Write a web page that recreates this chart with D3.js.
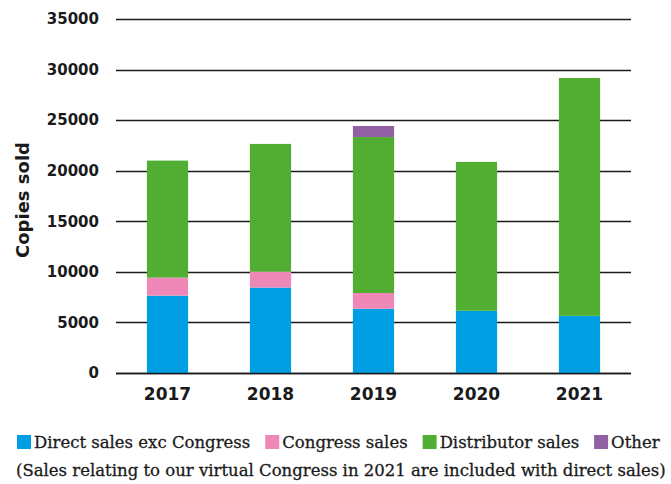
<!DOCTYPE html>
<html>
<head>
<meta charset="utf-8">
<script src="https://cdn.jsdelivr.net/npm/d3@7"></script>
<style>
  body { margin: 0; background: #fff; }
</style>
</head>
<body>
<div id="chart-area"></div>
<script>
// Data
// ****
const years = ["2017", "2018", "2019", "2020", "2021"]
const direct = [7650, 8450, 6350, 6150, 5650]
const congress = [1780, 1570, 1560, 0, 0]
const distributor = [11570, 12630, 15420, 14720, 23520]
const other = [0, 0, 1090, 0, 0]
const yTicks = [0, 5000, 10000, 15000, 20000, 25000, 30000, 35000]

const seriesNames = ["Direct sales exc Congress", "Congress sales", "Distributor sales", "Other"]
const seriesColors = ["#009fe3", "#ef88b7", "#52ae32", "#9161a3"]
const keys = ["direct", "congress", "distributor", "other"]

// Config
// ******
const W = 671, H = 484
const margin = {top: 19, right: 40, bottom: 111, left: 116}
const width = W - margin.left - margin.right
const height = H - margin.top - margin.bottom
const axisFont = "'DejaVu Sans', sans-serif"
const legendFont = "'DejaVu Serif', serif"

const svg = d3.select("#chart-area").append("svg")
  .attr("width", W).attr("height", H)

const g = svg.append("g")
  .attr("transform", "translate(" + margin.left + "," + margin.top + ")")

const table = years.map((y, i) => ({
  year: y, direct: direct[i], congress: congress[i], distributor: distributor[i], other: other[i]
}))
const stacked = d3.stack().keys(keys)(table)

const x = d3.scaleBand().domain(years).range([0, width]).paddingInner(0.6).paddingOuter(0.3)
const y = d3.scaleLinear().domain([0, 35000]).range([height, 0])

// Gridlines
g.append("g").selectAll("line").data(yTicks).enter().append("line")
  .attr("x1", 0).attr("x2", width)
  .attr("y1", d => Math.round(y(d)) + 0.5).attr("y2", d => Math.round(y(d)) + 0.5)
  .attr("stroke", "#1a1a1a").attr("stroke-width", 1.3)

// Bars
g.append("g").selectAll("g").data(stacked).enter().append("g")
  .attr("fill", (d, i) => seriesColors[i])
  .selectAll("rect").data(d => d).enter().append("rect")
    .attr("x", d => x(d.data.year))
    .attr("width", x.bandwidth())
    .attr("y", d => y(d[1]))
    .attr("height", d => y(d[0]) - y(d[1]))

// Axis line on top of bars
g.append("line")
  .attr("x1", 0).attr("x2", width)
  .attr("y1", height + 0.5).attr("y2", height + 0.5)
  .attr("stroke", "#1a1a1a").attr("stroke-width", 1.3)

// Y tick labels
const yAxis = g.append("g")
  .call(d3.axisLeft(y).tickValues(yTicks).tickFormat(d3.format("d")).tickSize(0).tickPadding(17))
yAxis.select(".domain").remove()
yAxis.selectAll("text")
  .attr("font-family", axisFont)
  .attr("font-weight", "bold").attr("font-size", "15px").attr("fill", "#1a1a1a")

// X tick labels
const xAxis = g.append("g").attr("transform", "translate(0," + height + ")")
  .call(d3.axisBottom(x).tickSize(0).tickPadding(15))
xAxis.select(".domain").remove()
xAxis.selectAll("text")
  .attr("font-family", axisFont)
  .attr("font-weight", "bold").attr("font-size", "17px").attr("fill", "#1a1a1a")

// Y label
svg.append("text")
  .attr("transform", "translate(29,200) rotate(-90)")
  .attr("text-anchor", "middle")
  .attr("font-family", axisFont)
  .attr("font-weight", "bold").attr("font-size", "18px").attr("fill", "#1a1a1a")
  .text("Copies sold")

// Legend
const legend = svg.append("g").attr("transform", "translate(17,435)")
let lx = 0
seriesNames.forEach((name, i) => {
  legend.append("rect").attr("x", lx).attr("y", 0).attr("width", 14).attr("height", 14)
    .attr("fill", seriesColors[i])
  const t = legend.append("text").attr("x", lx + 17).attr("y", 13)
    .attr("font-family", legendFont).attr("font-size", "16.5px").attr("fill", "#1a1a1a")
    .attr("stroke", "#1a1a1a").attr("stroke-width", 0.3)
    .text(name)
  lx += 17 + t.node().getComputedTextLength() + 15
})

svg.append("text").attr("x", 16).attr("y", 476)
  .attr("font-family", legendFont).attr("font-size", "16.5px").attr("fill", "#1a1a1a")
  .attr("stroke", "#1a1a1a").attr("stroke-width", 0.3)
  .text("(Sales relating to our virtual Congress in 2021 are included with direct sales)")
</script>
</body>
</html>
